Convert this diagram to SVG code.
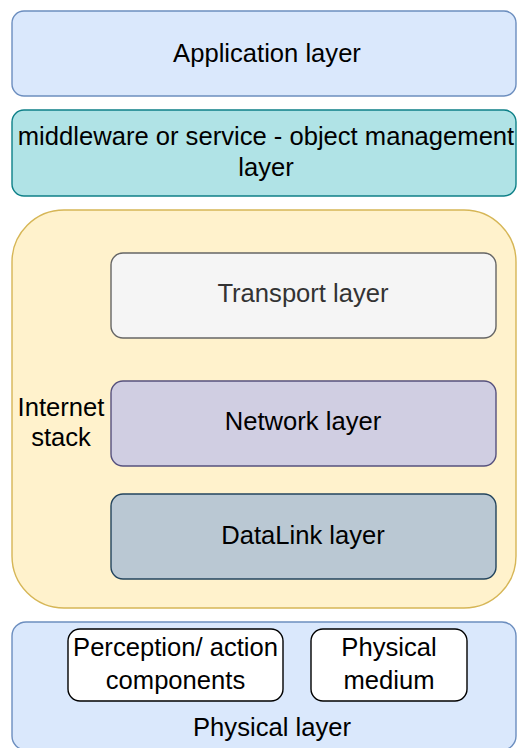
<svg xmlns="http://www.w3.org/2000/svg" width="517" height="748" viewBox="0 0 517 748">
<style>
  text { font-family: "Liberation Sans", Arial, Helvetica, sans-serif; font-size: 25.6px; fill: #000000; text-anchor: middle; }
  .app { fill: #dae8fc; stroke: #6c8ebf; stroke-width: 1.4; }
  .mid { fill: #b0e3e6; stroke: #0e8088; stroke-width: 1.4; }
  .inet { fill: #fff2cc; stroke: #d6b656; stroke-width: 1.4; }
  .trans { fill: #f5f5f5; stroke: #666666; stroke-width: 1.4; }
  .net { fill: #d0cee2; stroke: #56517e; stroke-width: 1.4; }
  .dl { fill: #bac8d3; stroke: #23445d; stroke-width: 1.4; }
  .sub { fill: #ffffff; stroke: #000000; stroke-width: 1.4; }
</style>
<g id="application-layer">
  <rect class="app" x="12" y="11" width="504" height="85" rx="12"/>
  <text x="267" y="62">Application layer</text>
</g>
<g id="middleware-layer">
  <rect class="mid" x="12" y="110" width="504" height="86" rx="12"/>
  <text x="266" y="145">middleware or service - object management</text>
  <text x="266" y="176">layer</text>
</g>
<g id="internet-stack">
  <rect class="inet" x="12" y="210" width="504" height="398" rx="52"/>
  <text x="61" y="416">Internet</text>
  <text x="61" y="446">stack</text>
</g>
<g id="transport-layer">
  <rect class="trans" x="111" y="253" width="385" height="85" rx="12"/>
  <text x="303" y="302" style="fill:#333333">Transport layer</text>
</g>
<g id="network-layer">
  <rect class="net" x="111" y="381" width="385" height="85" rx="12"/>
  <text x="303" y="430">Network layer</text>
</g>
<g id="datalink-layer">
  <rect class="dl" x="111" y="494" width="385" height="85" rx="12"/>
  <text x="303" y="544">DataLink layer</text>
</g>
<g id="physical-layer">
  <rect class="app" x="12" y="622" width="504" height="128" rx="14"/>
  <text x="272" y="736">Physical layer</text>
</g>
<g id="perception-components">
  <rect class="sub" x="68" y="629" width="215" height="72" rx="12"/>
  <text x="175.5" y="656">Perception/ action</text>
  <text x="175.5" y="689">components</text>
</g>
<g id="physical-medium">
  <rect class="sub" x="311" y="629" width="156" height="72" rx="12"/>
  <text x="389" y="656">Physical</text>
  <text x="389" y="689">medium</text>
</g>
<g id="connectors"></g>
</svg>
